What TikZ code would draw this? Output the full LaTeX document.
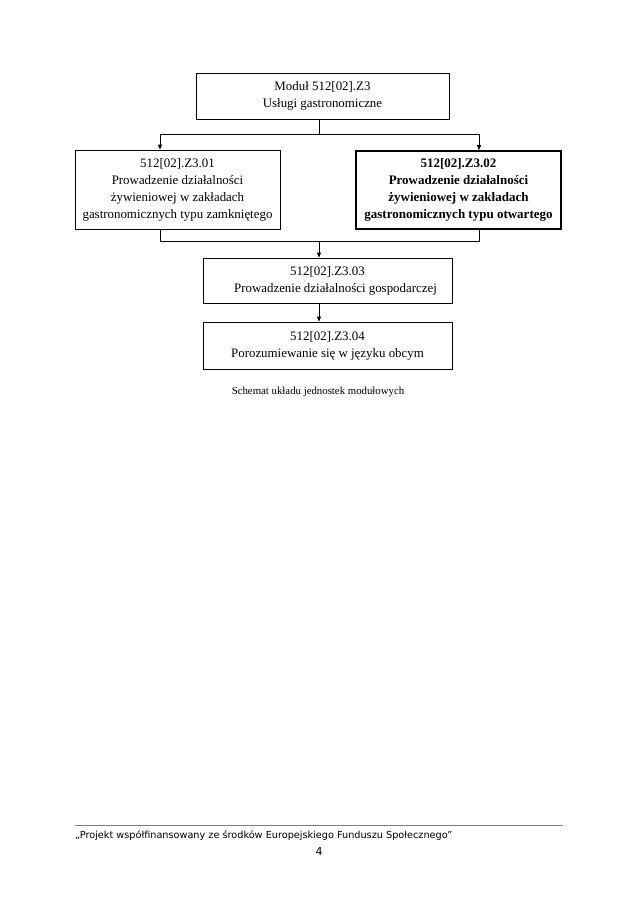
\documentclass[tikz,border=0pt]{standalone}
\usepackage{fontspec}
\setmainfont{Liberation Serif}
\newfontfamily\footfont{DejaVu Sans}
\usetikzlibrary{arrows.meta}
\begin{document}
\begin{tikzpicture}[x=1pt,y=-1pt,
  box/.style={draw,line width=0.8pt,inner sep=0pt,align=center,font=\fontsize{12.9}{17}\selectfont},
  boldbox/.style={box,line width=1.6pt,font=\fontsize{13}{17}\selectfont\bfseries},
  conn/.style={line width=0.8pt},
  arr/.style={conn,-{Triangle[length=5pt,width=4pt]}}]
\useasboundingbox (0,0) rectangle (638,903);
\fill[white] (0,0) rectangle (638,903);
\node[box,minimum width=253pt,minimum height=46pt] (m) at (322.5,96) {Moduł 512[02].Z3\\Usługi gastronomiczne};
\node[box,minimum width=205pt,minimum height=79pt] (a) at (177.5,189.5) {512[02].Z3.01\\Prowadzenie działalności\\żywieniowej w zakładach\\gastronomicznych typu zamkniętego};
\node[boldbox,minimum width=205pt,minimum height=78pt] (b) at (458.5,190) {512[02].Z3.02\\Prowadzenie działalności\\żywieniowej w zakładach\\gastronomicznych typu otwartego};
\node[box,minimum width=249pt,minimum height=45pt] (c) at (327.5,280.5) {512[02].Z3.03\\\hspace*{16pt}Prowadzenie działalności gospodarczej};
\node[box,minimum width=249pt,minimum height=47pt] (d) at (327.5,345.5) {512[02].Z3.04\\Porozumiewanie się w języku obcym};
\coordinate (t) at (319,134);
\coordinate (tl) at (160,134);
\coordinate (tr) at (479,134);
\coordinate (bl) at (160,241);
\coordinate (br) at (479,241);
\coordinate (bm) at (319,241);
\draw[conn] (m.south -| t) -- (t);
\draw[conn] (tl) -- (tr);
\draw[arr] (tl) -- (tl |- a.north);
\draw[arr] (tr) -- (tr |- b.north);
\draw[conn] (a.south -| bl) -- (bl) -- (br) -- (b.south -| br);
\draw[arr] (bm) -- (bm |- c.north);
\draw[arr] (c.south -| bm) -- (bm |- d.north);
\node[font=\fontsize{10.8}{12}\selectfont] (cap) at (318,392) {Schemat układu jednostek modułowych};
\coordinate (fl) at (75,825);
\coordinate (fr) at (563,825);
\draw[gray,line width=0.5pt] (fl) -- (fr);
\node[anchor=west,inner sep=0pt,font=\footfont\fontsize{9.7}{11}\selectfont] (ft) at (75,836) {„Projekt współfinansowany ze środków Europejskiego Funduszu Społecznego”};
\node[inner sep=0pt,font=\footfont\fontsize{11}{13}\selectfont] (pg) at (319,851) {4};
\end{tikzpicture}
\end{document}
